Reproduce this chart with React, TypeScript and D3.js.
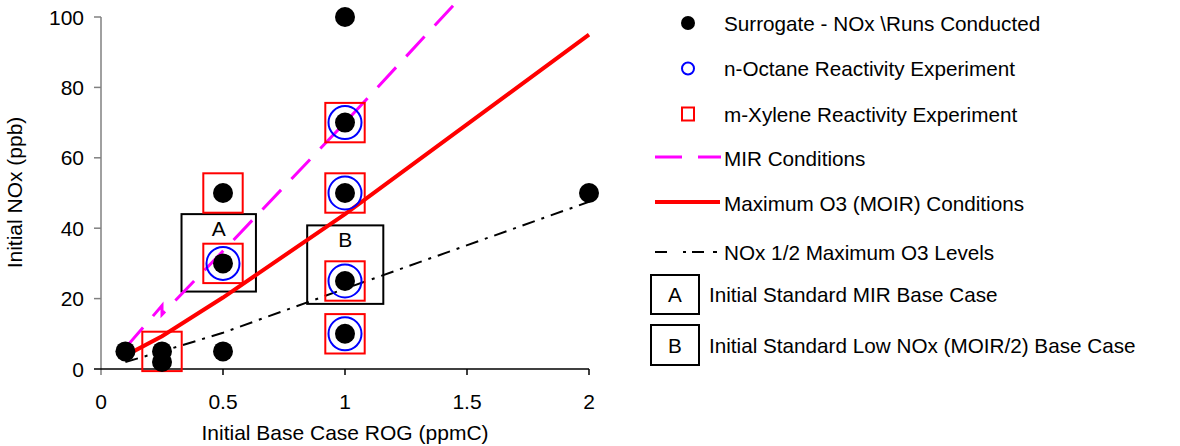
import React from "react";
import * as d3 from "d3";

// ---------- data ----------
const surrogateX = [0.1, 0.25, 0.25, 0.5, 0.5, 0.5, 1, 1, 1, 1, 1, 2];
const surrogateY = [5, 5, 2, 5, 30, 50, 10, 25, 50, 70, 100, 50];

const octaneX = [0.5, 1, 1, 1, 1];
const octaneY = [30, 10, 25, 50, 70];

const xyleneX = [0.25, 0.5, 0.5, 1, 1, 1, 1];
const xyleneY = [5, 30, 50, 10, 25, 50, 70];

const mirX = [0.1, 0.25, 0.25, 0.5, 1, 1.5];
const mirY = [6, 18, 15.5, 33.5, 70, 107.5];

const moirX = [0.1, 0.25, 0.5, 1, 2];
const moirY = [3.8, 9.3, 20.3, 44, 95];

const halfX = [0.1, 0.25, 0.5, 1, 2];
const halfY = [2, 5, 10.3, 22.8, 47.5];

const boxLabels = ["A", "B"];
const boxX0 = [0.33, 0.845];
const boxX1 = [0.635, 1.157];
const boxY0 = [22, 18.5];
const boxY1 = [44, 40.8];

const xTicks = [0, 0.5, 1, 1.5, 2];
const yTicks = [0, 20, 40, 60, 80, 100];

const legendLabels = [
  "Surrogate - NOx \\Runs Conducted",
  "n-Octane Reactivity Experiment",
  "m-Xylene Reactivity Experiment",
  "MIR Conditions",
  "Maximum O3 (MOIR) Conditions",
  "NOx 1/2 Maximum O3 Levels",
];
const legendBoxTexts = [
  "Initial Standard MIR Base Case",
  "Initial Standard Low NOx (MOIR/2) Base Case",
];

const xTitle = "Initial Base Case ROG (ppmC)";
const yTitle = "Initial NOx (ppb)";

// ---------- component ----------
export default function App() {
  const W = 1180;
  const H = 446;
  const x = d3.scaleLinear().domain([0, 2]).range([101, 589]);
  const y = d3.scaleLinear().domain([0, 100]).range([369, 17]);
  const font = "Arial, 'Liberation Sans', sans-serif";
  const fs = 21;
  const lfs = 20.7;

  const line = d3
    .line<[number, number]>()
    .x((d) => x(d[0]))
    .y((d) => y(d[1]));

  const zip = (a: number[], b: number[]) =>
    a.map((v, i) => [v, b[i]] as [number, number]);

  const legendRowY = [23, 68.5, 114, 158, 203, 252];
  const legendBoxY = [[275, 314], [325, 365]];

  return (
    <svg
      width={W}
      height={H}
      style={{ position: "absolute", left: 0, top: 0, background: "#fff" }}
      fontFamily={font}
    >
      <rect x={0} y={0} width={W} height={H} fill="#fff" />

      {/* axes */}
      <line x1={x(0)} x2={x(0)} y1={y(100)} y2={375} stroke="#808080" strokeWidth={1.5} />
      <line x1={94} x2={x(2)} y1={y(0)} y2={y(0)} stroke="#000" strokeWidth={1.5} />
      {yTicks.filter((t) => t !== 0).map((t) => (
        <line key={"yt" + t} x1={94} x2={x(0)} y1={y(t)} y2={y(t)} stroke="#808080" strokeWidth={1.5} />
      ))}
      {xTicks.filter((t) => t !== 0).map((t) => (
        <line key={"xt" + t} x1={x(t)} x2={x(t)} y1={y(0)} y2={375} stroke="#000" strokeWidth={1.5} />
      ))}
      {yTicks.map((t) => (
        <text key={"yl" + t} x={84} y={y(t) + 7.5} textAnchor="end" fontSize={fs} fill="#000">
          {t}
        </text>
      ))}
      {xTicks.map((t) => (
        <text key={"xl" + t} x={x(t)} y={409} textAnchor="middle" fontSize={fs} fill="#000">
          {String(t)}
        </text>
      ))}
      <text x={(x(0) + x(2)) / 2} y={440} textAnchor="middle" fontSize={fs} fill="#000">
        {xTitle}
      </text>
      <text
        transform={`translate(22, 192.5) rotate(-90)`}
        textAnchor="middle"
        fontSize={fs}
        fill="#000"
      >
        {yTitle}
      </text>

      {/* annotation boxes */}
      {boxLabels.map((l, i) => (
        <g key={"box" + l}>
          <rect
            x={x(boxX0[i])}
            y={y(boxY1[i])}
            width={x(boxX1[i]) - x(boxX0[i])}
            height={y(boxY0[i]) - y(boxY1[i])}
            fill="none"
            stroke="#000"
            strokeWidth={2}
          />
          <text
            x={(x(boxX0[i]) + x(boxX1[i])) / 2}
            y={y(boxY1[i]) + 22}
            textAnchor="middle"
            fontSize={fs}
            fill="#000"
          >
            {l}
          </text>
        </g>
      ))}

      {/* lines */}
      <path d={line(zip(halfX, halfY)) || ""} fill="none" stroke="#000" strokeWidth={2} strokeDasharray="13,7,3,7" />
      <path d={line(zip(moirX, moirY)) || ""} fill="none" stroke="#ff0000" strokeWidth={4} />
      <path d={line(zip(mirX, mirY)) || ""} fill="none" stroke="#ff00ff" strokeWidth={3} strokeDasharray="27,15" />

      {/* markers */}
      {xyleneX.map((v, i) => (
        <rect
          key={"sq" + i}
          x={x(v) - 19.7}
          y={y(xyleneY[i]) - 19.7}
          width={39.4}
          height={39.4}
          fill="none"
          stroke="#ff0000"
          strokeWidth={2}
        />
      ))}
      {octaneX.map((v, i) => (
        <circle key={"oc" + i} cx={x(v)} cy={y(octaneY[i])} r={16.5} fill="none" stroke="#0000ff" strokeWidth={2} />
      ))}
      {surrogateX.map((v, i) => (
        <circle key={"sd" + i} cx={x(v)} cy={y(surrogateY[i])} r={10} fill="#000" />
      ))}

      {/* legend */}
      <circle cx={688} cy={legendRowY[0]} r={7} fill="#000" />
      <circle cx={688} cy={legendRowY[1]} r={6} fill="none" stroke="#0000ff" strokeWidth={2} />
      <rect x={682} y={legendRowY[2] - 6.5} width={12} height={13} fill="none" stroke="#ff0000" strokeWidth={2} />
      <line x1={655} x2={721} y1={legendRowY[3] - 1} y2={legendRowY[3] - 1} stroke="#ff00ff" strokeWidth={3} strokeDasharray="27,16" />
      <line x1={655} x2={720} y1={legendRowY[4] - 1} y2={legendRowY[4] - 1} stroke="#ff0000" strokeWidth={4} />
      <line x1={655} x2={718} y1={legendRowY[5]} y2={legendRowY[5]} stroke="#000" strokeWidth={2} strokeDasharray="12,16,3,6,12,9,4,20" />
      {legendLabels.map((l, i) => (
        <text key={"lg" + i} x={724} y={legendRowY[i] + 7.5} fontSize={lfs} fill="#000">
          {l}
        </text>
      ))}
      {legendBoxTexts.map((l, i) => (
        <g key={"lb" + i}>
          <rect
            x={651}
            y={legendBoxY[i][0]}
            width={48}
            height={legendBoxY[i][1] - legendBoxY[i][0]}
            fill="none"
            stroke="#000"
            strokeWidth={2}
          />
          <text x={675} y={(legendBoxY[i][0] + legendBoxY[i][1]) / 2 + 7.5} textAnchor="middle" fontSize={lfs} fill="#000">
            {boxLabels[i]}
          </text>
          <text x={709} y={(legendBoxY[i][0] + legendBoxY[i][1]) / 2 + 7.5} fontSize={lfs} fill="#000">
            {l}
          </text>
        </g>
      ))}
    </svg>
  );
}
